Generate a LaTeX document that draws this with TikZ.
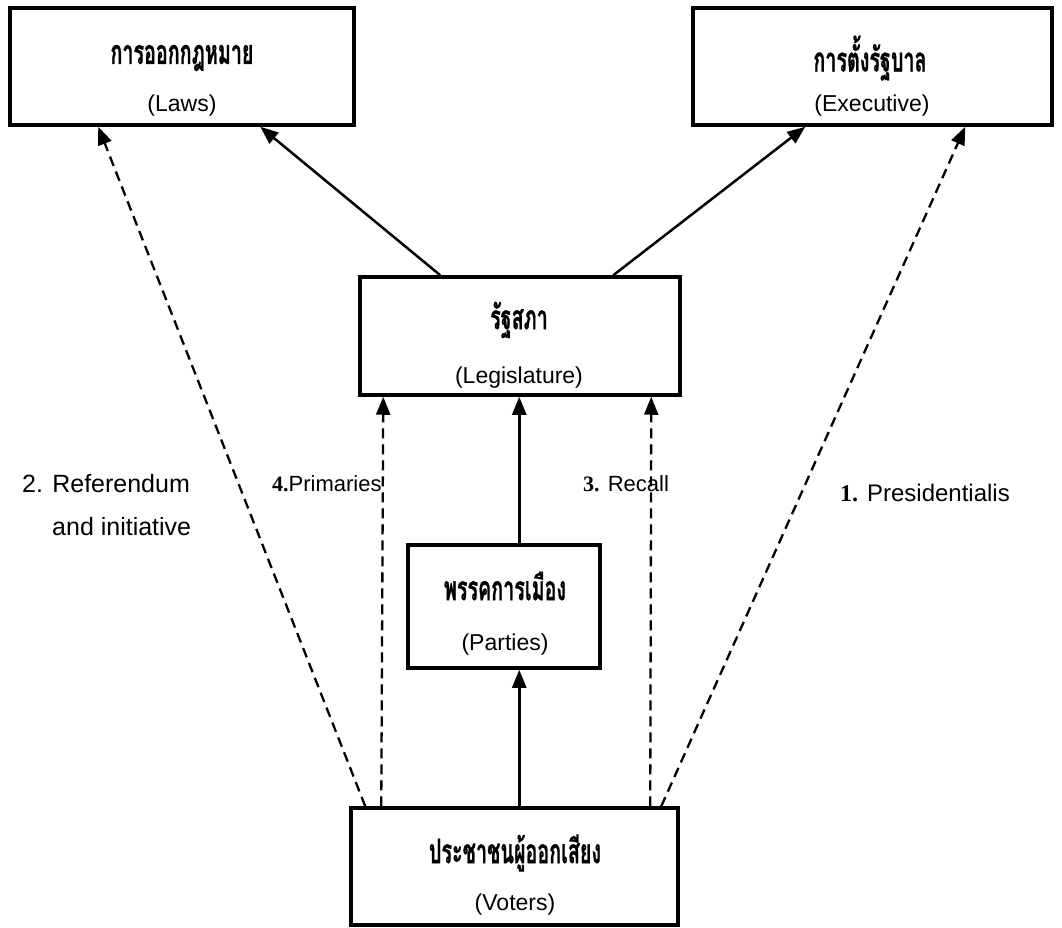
\documentclass[tikz,border=0pt]{standalone}
\usepackage{fontspec}
\setmainfont{Liberation Sans}
\newfontfamily\thaifont[Script=Thai,FakeStretch=0.58,FakeBold=0.6]{Loma}
\newfontfamily\numfont{Liberation Serif}
\usetikzlibrary{arrows.meta,calc}
\begin{document}
\begin{tikzpicture}[x=1pt,y=-1pt,
  box/.style={draw,line width=3.5pt,inner sep=0pt},
  th/.style={font=\thaifont\bfseries\fontsize{34}{38}\selectfont,inner sep=0pt},
  en/.style={font=\fontsize{23}{26}\selectfont,inner sep=0pt},
  lbl/.style={font=\fontsize{22}{26}\selectfont,inner sep=0pt,anchor=west},
  solidarr/.style={line width=2.5pt,-{Triangle[length=18pt,width=14pt]}},
  dasharr/.style={line width=2.3pt,dash pattern=on 10pt off 6pt,-{Triangle[length=18pt,width=14pt]}}]
\useasboundingbox (0,0) rectangle (1062,928);
% boxes
\node[box,minimum width=344pt,minimum height=117pt] (laws) at (182,66.5) {};
\node[box,minimum width=359pt,minimum height=117pt] (exec) at (872.5,66.5) {};
\node[box,minimum width=320pt,minimum height=118pt] (leg) at (520,336) {};
\node[box,minimum width=192pt,minimum height=123pt] (par) at (504,606.5) {};
\node[box,minimum width=327pt,minimum height=117pt] (vot) at (514.5,866.5) {};
% texts
\node[th] (lawsT) at (182,58) {การออกกฎหมาย};
\node[en] (lawsE) at (182,106) {(Laws)};
\node[th] (execT) at (870,58) {การตั้งรัฐบาล};
\node[en] (execE) at (872,106) {(Executive)};
\node[th] (legT) at (519,320) {รัฐสภา};
\node[en] (legE) at (519,378) {(Legislature)};
\node[th] (parT) at (505,586) {พรรคการเมือง};
\node[en] (parE) at (505,645) {(Parties)};
\node[th] (votT) at (515,853) {ประชาชนผู้ออกเสียง};
\node[en] (votE) at (515,905) {(Voters)};
% labels
\node[lbl,font=\fontsize{25}{28}\selectfont] (ref1) at (22,484) {2. Referendum};
\node[lbl,font=\fontsize{25}{28}\selectfont] (ref2) at (52,527) {and initiative};
\node[lbl] (prim) at (272,484) {{\numfont\bfseries 4.}Primaries};
\node[lbl] (rec) at (583,484) {{\numfont\bfseries 3.} Recall};
\node[lbl,font=\fontsize{24}{28}\selectfont] (pres) at (840,493) {{\numfont\bfseries 1.} Presidentialis};
% connectors
\draw[solidarr] ([xshift=82pt]leg.north west) -- ([xshift=252pt]laws.south west);
\draw[solidarr] ([xshift=255pt]leg.north west) -- ([xshift=114pt]exec.south west);
\draw[solidarr] ([xshift=113pt]par.north west) -- ([xshift=161pt]leg.south west);
\draw[solidarr] ([xshift=170pt]vot.north west) -- ([xshift=113pt]par.south west);
\draw[dasharr] ([xshift=16pt]vot.north west) -- ([xshift=90pt]laws.south west);
\draw[dasharr] ([xshift=32pt]vot.north west) -- ([xshift=25pt]leg.south west);
\draw[dasharr] ([xshift=301pt]vot.north west) -- ([xshift=293pt]leg.south west);
\draw[dasharr] ([xshift=312pt]vot.north west) -- ([xshift=274pt]exec.south west);
\end{tikzpicture}
\end{document}
